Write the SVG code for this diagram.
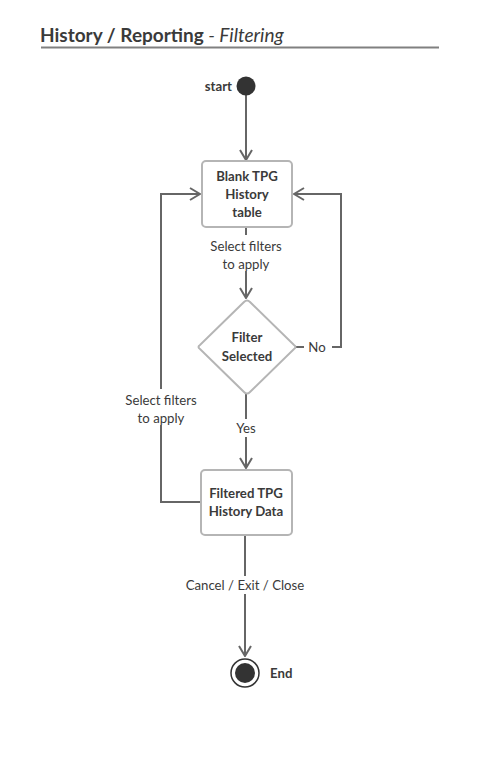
<svg xmlns="http://www.w3.org/2000/svg" width="479" height="760" viewBox="0 0 479 760">
<style>
text{font-family:Lato,"Noto Sans",sans-serif;fill:#3a3a3a}
.t{font-size:19px;font-weight:bold}
.ti{font-size:19px;font-style:italic;font-weight:normal}
.n{font-size:13.2px;font-weight:bold;text-anchor:middle}
.l{font-size:13.2px;text-anchor:middle}
.e{fill:none;stroke:#666;stroke-width:2}
.box{fill:#fff;stroke:#b5b5b5;stroke-width:2}
</style>
<defs>
<marker id="a" viewBox="0 0 12 14" refX="11" refY="7" markerWidth="12" markerHeight="14" markerUnits="userSpaceOnUse" orient="auto">
<path d="M1,1 L11,7 L1,13" fill="none" stroke="#666" stroke-width="2"/>
</marker>
</defs>
<rect width="479" height="760" fill="#fff"/>
<g id="title">
<text x="40" y="42"><tspan class="t">History / Reporting</tspan><tspan class="ti"> - Filtering</tspan></text>
<line x1="41" y1="47.5" x2="439" y2="47.5" stroke="#808080" stroke-width="2"/>
</g>
<g id="connectors">
<path class="e" d="M246,95 V160" marker-end="url(#a)"/>
<path class="e" d="M246,227 V298" marker-end="url(#a)"/>
<path class="e" d="M296,347 H341 V194 H294" marker-end="url(#a)"/>
<path class="e" d="M246,394 V468" marker-end="url(#a)"/>
<path class="e" d="M201,502 H161 V194 H200" marker-end="url(#a)"/>
<path class="e" d="M245,535 V656" marker-end="url(#a)"/>
<rect x="202" y="235" width="88" height="36" fill="#fff"/>
<text class="l" x="246" y="251">Select filters</text>
<text class="l" x="246" y="269">to apply</text>
<rect x="304" y="338" width="28" height="18" fill="#fff"/>
<text class="l" x="317" y="352">No</text>
<rect x="231" y="419" width="30" height="18" fill="#fff"/>
<text class="l" x="246" y="433">Yes</text>
<rect x="117" y="389" width="88" height="36" fill="#fff"/>
<text class="l" x="161" y="405">Select filters</text>
<text class="l" x="161" y="423">to apply</text>
<rect x="181" y="576" width="128" height="18" fill="#fff"/>
<text class="l" x="245" y="590">Cancel / Exit / Close</text>
</g>
<g id="start">
<circle cx="246" cy="86" r="9.5" fill="#333"/>
<text class="n" x="232" y="91" style="text-anchor:end">start</text>
</g>
<g id="blank">
<rect class="box" x="202" y="161" width="90" height="66" rx="4"/>
<text class="n" x="247" y="181">Blank TPG</text>
<text class="n" x="247" y="199">History</text>
<text class="n" x="247" y="217">table</text>
</g>
<g id="decision">
<path class="box" d="M244,302 Q247,299 250,302 L294,345 Q297,347 294,349 L250,392 Q247,395 244,392 L200,349 Q197,347 200,345 Z"/>
<text class="n" x="247" y="342">Filter</text>
<text class="n" x="247" y="361">Selected</text>
</g>
<g id="filtered">
<rect class="box" x="201" y="470" width="91" height="65" rx="4"/>
<text class="n" x="246" y="498">Filtered TPG</text>
<text class="n" x="246" y="516">History Data</text>
</g>
<g id="end">
<circle cx="245" cy="673" r="14" fill="#fff" stroke="#333" stroke-width="1.5"/>
<circle cx="245" cy="673" r="10" fill="#333"/>
<text class="n" x="270" y="678" style="text-anchor:start">End</text>
</g>
</svg>
